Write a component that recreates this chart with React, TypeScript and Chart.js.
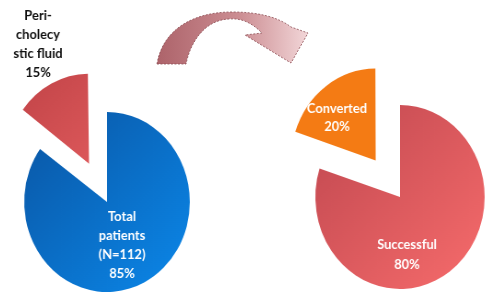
import React, { useEffect, useRef } from "react";
import { Chart, registerables } from "chart.js";

Chart.register(...registerables);

// ---- data ----
const leftCategories = ["Total patients (N=112)", "Peri-cholecystic fluid"];
const leftValues = [85, 15];
const leftLabelLines = [
  ["Total", "patients", "(N=112)", "85%"],
  ["Peri-", "cholecy", "stic fluid", "15%"],
];
const rightCategories = ["Successful", "Converted"];
const rightValues = [80, 20];
const rightLabelLines = [
  ["Successful", "80%"],
  ["Converted", "20%"],
];

const SX = 0.92; // horizontal squish of the reference image

type LabelItem = { dx: number; dy: number; color: string; lh: number };

// keep the exploded slice at the same radius as the rest of the pie
const keepRadiusPlugin = {
  id: "keepRadius",
  beforeDatasetsDraw(chart: any) {
    const R = chart.options.radius;
    const meta = chart.getDatasetMeta(0);
    meta.data.forEach((arc: any) => {
      const o = (arc.options && arc.options.offset) || 0;
      if (o) {
        const fix = 1 - Math.sin(Math.min(Math.PI, arc.circumference || 0));
        arc.outerRadius = R - (o / 4) * fix;
      }
    });
  },
};

const sliceLabelPlugin = {
  id: "sliceLabels",
  afterDatasetsDraw(chart: any, _args: any, opts: any) {
    const meta = chart.getDatasetMeta(0);
    const ctx = chart.ctx;
    const items: LabelItem[] = opts.items || [];
    const lines: string[][] = opts.lines || [];
    meta.data.forEach((arc: any, i: number) => {
      const it = items[i];
      if (!it) return;
      const ls = lines[i] || [];
      ctx.save();
      ctx.font = "bold 14px Lato";
      ctx.fillStyle = it.color;
      ctx.textAlign = "center";
      ctx.textBaseline = "middle";
      const cx = arc.x + it.dx / SX;
      const cy = arc.y + it.dy;
      const start = cy - ((ls.length - 1) * it.lh) / 2;
      ls.forEach((t, k) => ctx.fillText(t, cx, start + k * it.lh));
      ctx.restore();
    });
  },
};

function makeGradient(chart: any, r: number, c0: string, c1: string) {
  const area = chart.chartArea;
  if (!area) return c0;
  const cx = (area.left + area.right) / 2;
  const cy = (area.top + area.bottom) / 2;
  const g = chart.ctx.createLinearGradient(cx - r, cy - r, cx + r, cy + r);
  g.addColorStop(0, c0);
  g.addColorStop(1, c1);
  return g;
}

function PieCanvas(props: {
  left: number;
  top: number;
  width: number;
  height: number;
  radius: number;
  labels: string[];
  values: number[];
  lines: string[][];
  colors: [string, string][];
  offsets: number[];
  items: LabelItem[];
}) {
  const ref = useRef<HTMLCanvasElement | null>(null);
  useEffect(() => {
    if (!ref.current) return;
    const chart = new Chart(ref.current, {
      type: "pie",
      data: {
        labels: props.labels,
        datasets: [
          {
            data: props.values,
            backgroundColor: (ctx: any) => {
              const c = props.colors[ctx.dataIndex];
              return makeGradient(ctx.chart, props.radius, c[0], c[1]);
            },
            borderWidth: 0,
            offset: props.offsets,
            hoverOffset: 0,
          } as any,
        ],
      },
      options: {
        responsive: false,
        animation: false,
        devicePixelRatio: 1,
        radius: props.radius,
        layout: { padding: 0 },
        events: [],
        plugins: {
          legend: { display: false },
          tooltip: { enabled: false },
          sliceLabels: { items: props.items, lines: props.lines },
        } as any,
      } as any,
      plugins: [keepRadiusPlugin, sliceLabelPlugin],
    });
    return () => chart.destroy();
  }, []);
  return (
    <canvas
      ref={ref}
      width={props.width}
      height={props.height}
      style={{
        position: "absolute",
        left: props.left,
        top: props.top,
        width: props.width,
        height: props.height,
        transform: `scaleX(${SX})`,
        transformOrigin: "50% 50%",
      }}
    />
  );
}

function Arrow() {
  return (
    <svg
      width={485}
      height={294}
      style={{ position: "absolute", left: 0, top: 0 }}
    >
      <defs>
        <linearGradient id="ag" x1="0" y1="0" x2="1" y2="0">
          <stop offset="0" stopColor="#ad636a" />
          <stop offset="0.55" stopColor="#cc8e93" />
          <stop offset="1" stopColor="#f2d6d8" />
        </linearGradient>
      </defs>
      <path
        d="M157 64 C163 28 195 12 232 12 C258 12 278 17 291 27 L308 33 L291 63 L245 35 L262 33 C252 23 242 18 229 19 C206 20 191 40 186 64 Z"
        fill="url(#ag)"
        stroke="#8d4e54"
        strokeWidth={0.8}
        strokeDasharray="2 1.5"
      />
    </svg>
  );
}

export default function App() {
  return (
    <div
      style={{
        position: "absolute",
        left: 0,
        top: 0,
        width: 485,
        height: 294,
        overflow: "hidden",
        background: "#ffffff",
      }}
    >
      <Arrow />
      <PieCanvas
        left={0}
        top={0}
        width={214}
        height={404}
        radius={90}
        labels={leftCategories}
        values={leftValues}
        lines={leftLabelLines}
        colors={[
          ["#0a55a3", "#0b88ea"],
          ["#bf4246", "#f86d6d"],
        ]}
        offsets={[0, 172]}
        items={[
          { dx: 15, dy: 43, color: "#ffffff", lh: 19 },
          { dx: -69, dy: -158, color: "#111111", lh: 18.7 },
        ]}
      />
      <PieCanvas
        left={270}
        top={0}
        width={260}
        height={394}
        radius={92}
        labels={rightCategories}
        values={rightValues}
        lines={rightLabelLines}
        colors={[
          ["#bf474f", "#f76c6c"],
          ["#f47b14", "#f47b14"],
        ]}
        offsets={[0, 180]}
        items={[
          { dx: 7, dy: 57, color: "#ffffff", lh: 20 },
          { dx: -63, dy: -80, color: "#ffffff", lh: 18 },
        ]}
      />
    </div>
  );
}
